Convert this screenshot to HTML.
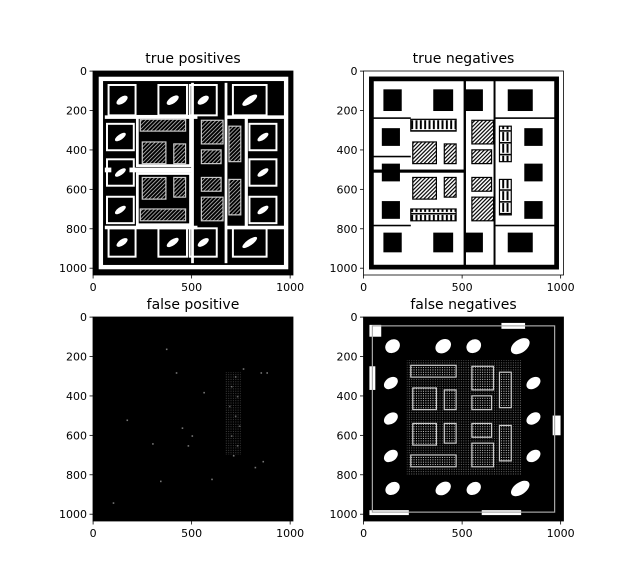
<!DOCTYPE html>
<html><head><meta charset="utf-8">
<style>
html,body{margin:0;padding:0;background:#fff;}
#fig{position:relative;width:640px;height:586px;overflow:hidden;font-family:"DejaVu Sans","Liberation Sans",sans-serif;}
svg text{font-family:"DejaVu Sans","Liberation Sans",sans-serif;}
</style></head>
<body>
<div id="fig">
<svg id="root" width="640" height="586" viewBox="0 0 640 586" xmlns="http://www.w3.org/2000/svg">
<defs>
<pattern id="hatch" width="14" height="14" patternUnits="userSpaceOnUse" patternTransform="rotate(45)">
<rect width="14" height="14" fill="#fff"/><rect width="6" height="14" fill="#000"/></pattern>
<pattern id="hatchD" width="14" height="14" patternUnits="userSpaceOnUse" patternTransform="rotate(45)">
<rect width="14" height="14" fill="#000"/><rect width="4" height="14" fill="#bbb"/></pattern>
<pattern id="comb" width="22" height="60" patternUnits="userSpaceOnUse">
<rect width="22" height="60" fill="#fff"/><rect x="0" y="10" width="10" height="45" fill="#000"/><rect x="0" y="0" width="22" height="8" fill="#000"/></pattern>
<pattern id="dots" width="12" height="12" patternUnits="userSpaceOnUse">
<rect width="12" height="12" fill="#000"/><rect x="2" y="2" width="5" height="5" fill="#ddd"/></pattern>
</defs>
</svg>
</div>
<script>
const panelTitles = ["true positives","true negatives","false positive","false negatives"];
const xTicks = [0,500,1000];
const yTicks = [0,200,400,600,800,1000];
const padsX = [101,354,513,732];
const padsW = [93,101,93,127];
const sidePadsY = [290,470,660];
const blocks = [[240,245,230,60,'comb'],[250,360,120,110,'hatch'],[410,370,60,100,'hatch'],[550,250,110,120,'hatch'],[550,400,100,70,'hatch'],
  [250,540,120,110,'hatch'],[410,540,60,100,'hatch'],[240,700,230,60,'comb'],[550,540,100,70,'hatch'],[550,640,110,120,'hatch'],
  [690,280,60,180,'comb'],[690,550,60,180,'comb']];
const fpSpecks = [[720,300],[700,350],[730,400],[690,450],[720,500],[740,550],[700,600],[730,650],[710,700],[760,260],[850,280],[880,280],[500,600],[480,650],[370,160],[170,520],[340,830],[100,940],[600,820],[820,760],[860,730],[420,280],[560,380],[300,640],[450,560]];

const NS="http://www.w3.org/2000/svg";
const root=document.getElementById('root');
const axesLeft=[93,363.5,93,363.5], axesTop=[71,71,317,317];
const AW=200, AH=204, EXT_X=1015, EXT_Y=1035;

function el(tag,attrs,parent){const e=document.createElementNS(NS,tag);for(const k in attrs)e.setAttribute(k,attrs[k]);parent.appendChild(e);return e;}

function drawLayout(g,mode){
  const bg = (mode==='tn')?'#fff':'#000';
  el('rect',{x:0,y:0,width:EXT_X,height:EXT_Y,fill:bg},g);
  if(mode==='fp'){
    fpSpecks.forEach(p=>{el('rect',{x:p[0],y:p[1],width:8,height:8,fill:'#777'},g);});
    el('rect',{x:670,y:280,width:80,height:420,fill:'url(#dots)',opacity:0.3},g);
    return;
  }
  if(mode==='tn'){
    el('rect',{x:40,y:40,width:940,height:955,fill:'none',stroke:'#000','stroke-width':24},g);
    el('rect',{x:508,y:40,width:12,height:955,fill:'#000'},g);
    el('rect',{x:660,y:40,width:10,height:955,fill:'#000'},g);
    el('rect',{x:40,y:500,width:470,height:16,fill:'#000'},g);
    el('rect',{x:40,y:235,width:200,height:8,fill:'#000'},g);
    el('rect',{x:40,y:430,width:200,height:8,fill:'#000'},g);
    el('rect',{x:40,y:780,width:200,height:8,fill:'#000'},g);
    el('rect',{x:670,y:235,width:310,height:8,fill:'#000'},g);
    el('rect',{x:670,y:780,width:310,height:8,fill:'#000'},g);
  }
  if(mode==='tp'){
    el('rect',{x:40,y:40,width:940,height:955,fill:'none',stroke:'#fff','stroke-width':22},g);
    el('rect',{x:498,y:60,width:14,height:915,fill:'#fff'},g);
    el('rect',{x:668,y:60,width:14,height:915,fill:'#fff'},g);
    el('rect',{x:60,y:490,width:450,height:24,fill:'#fff'},g);
    el('rect',{x:60,y:225,width:470,height:18,fill:'#fff'},g);
    el('rect',{x:60,y:785,width:470,height:18,fill:'#fff'},g);
    el('rect',{x:670,y:225,width:300,height:18,fill:'#fff'},g);
    el('rect',{x:670,y:785,width:300,height:18,fill:'#fff'},g);
    el('rect',{x:225,y:230,width:270,height:250,fill:'none',stroke:'#fff','stroke-width':14},g);
    el('rect',{x:225,y:520,width:270,height:260,fill:'none',stroke:'#fff','stroke-width':14},g);
    el('rect',{x:770,y:240,width:16,height:550,fill:'#fff'},g);
  }
  if(mode==='fn'){
    el('rect',{x:30,y:40,width:60,height:60,fill:'#fff'},g);
    el('rect',{x:700,y:30,width:120,height:30,fill:'#fff'},g);
    el('rect',{x:30,y:250,width:30,height:120,fill:'#fff'},g);
    el('rect',{x:960,y:500,width:40,height:100,fill:'#fff'},g);
    el('rect',{x:30,y:980,width:200,height:25,fill:'#fff'},g);
    el('rect',{x:600,y:980,width:200,height:25,fill:'#fff'},g);
    el('rect',{x:45,y:45,width:925,height:945,fill:'none',stroke:'#aaa','stroke-width':6},g);
    el('rect',{x:220,y:220,width:580,height:580,fill:'url(#dots)',opacity:0.5},g);
  }
  const pads=[];
  padsX.forEach((x,i)=>{pads.push([x,93,padsW[i],110]);pads.push([x,820,padsW[i],100]);});
  sidePadsY.forEach(y=>{pads.push([93,y,92,90]);pads.push([816,y,93,90]);});
  pads.forEach(p=>{
    el('rect',{x:p[0],y:p[1],width:p[2],height:p[3],fill:'#000'},g);
    if(mode==='fn'){
      el('ellipse',{cx:p[0]+p[2]/2,cy:p[1]+p[3]/2,rx:p[2]*0.42,ry:p[3]*0.3,fill:'#fff',
        transform:`rotate(-35 ${p[0]+p[2]/2} ${p[1]+p[3]/2})`},g);
    }
    if(mode==='tp'){
      el('rect',{x:p[0]-22,y:p[1]-22,width:p[2]+44,height:p[3]+44,fill:'none',stroke:'#fff','stroke-width':10},g);
      el('ellipse',{cx:p[0]+p[2]/2,cy:p[1]+p[3]/2,rx:p[2]*0.35,ry:p[3]*0.15,fill:'#fff',
        transform:`rotate(-35 ${p[0]+p[2]/2} ${p[1]+p[3]/2})`},g);
    }
  });
  blocks.forEach(b=>{
    let fill;
    if(mode==='tn') fill = b[4]==='comb'?'url(#comb)':'url(#hatch)';
    else if(mode==='tp') fill = 'url(#hatchD)';
    else fill='url(#dots)';
    el('rect',{x:b[0],y:b[1],width:b[2],height:b[3],fill:fill,stroke:mode==='tn'?'#000':'#ccc','stroke-width':6},g);
  });
}

panelTitles.forEach((title,i)=>{
  const L=axesLeft[i], T=axesTop[i];
  const ax=el('g',{},root);
  
  
  const img=el('svg',{x:L,y:T,width:AW,height:AH,viewBox:`0 0 ${EXT_X} ${EXT_Y}`,preserveAspectRatio:'none'},ax);
  
  
  drawLayout(img,['tp','tn','fp','fn'][i]);
  const sp=el('rect',{x:L,y:T,width:AW,height:AH,fill:'none',stroke:'#000','stroke-width':0.8},ax);
  
  
  const sx=v=>L+(v+0.5)*AW/EXT_X, sy=v=>T+(v+0.5)*AH/EXT_Y;
  xTicks.forEach(v=>{
    el('line',{x1:sx(v),y1:T+AH,x2:sx(v),y2:T+AH+3.5,stroke:'#000','stroke-width':0.8},ax);
    const t=el('text',{x:sx(v),y:T+AH+16,'font-size':11,'text-anchor':'middle',fill:'#000'},ax);
    t.textContent=v;
    
    
  });
  yTicks.forEach(v=>{
    el('line',{x1:L-3.5,y1:sy(v),x2:L,y2:sy(v),stroke:'#000','stroke-width':0.8},ax);
    const t=el('text',{x:L-6,y:sy(v)+4,'font-size':11,'text-anchor':'end',fill:'#000'},ax);
    t.textContent=v;
    
    
  });
  const tt=el('text',{x:L+AW/2,y:T-8,'font-size':14,'text-anchor':'middle',fill:'#000'},ax);
  tt.textContent=title;
  
  
});
</script>
</body></html>
